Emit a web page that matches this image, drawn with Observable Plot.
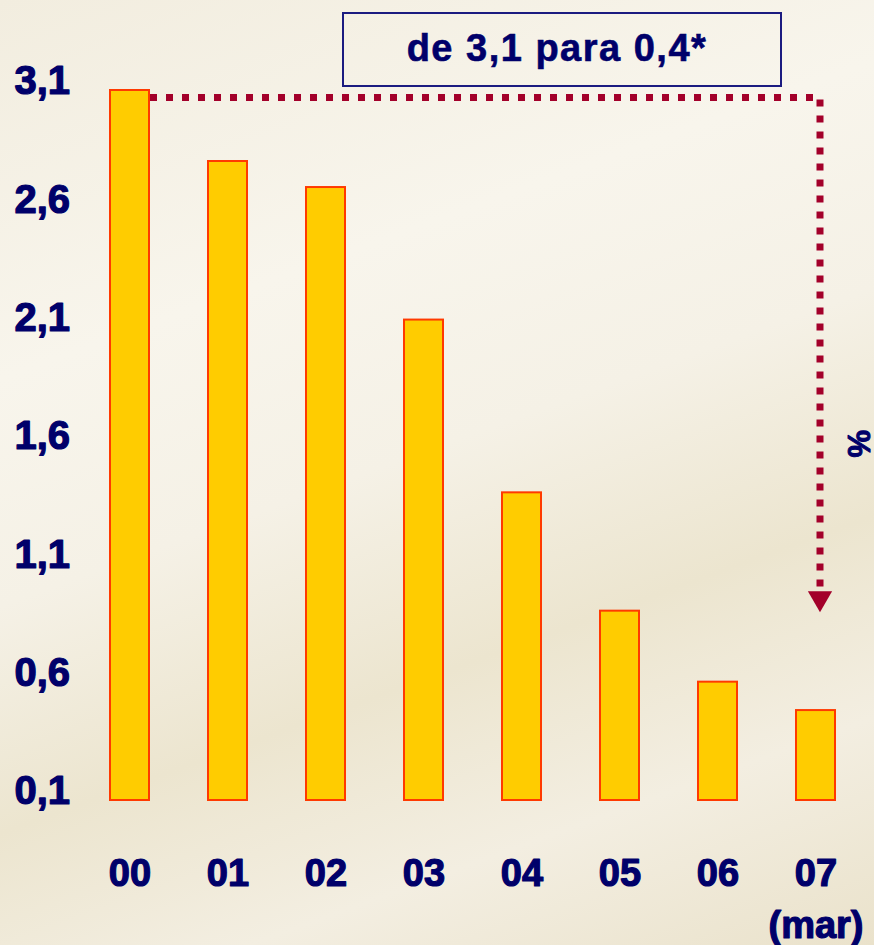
<!DOCTYPE html>
<html><head><meta charset="utf-8">
<script src="https://cdn.jsdelivr.net/npm/d3@7"></script>
<script src="https://cdn.jsdelivr.net/npm/@observablehq/plot@0.6"></script>
<style>
html,body{margin:0;padding:0;}
body{width:874px;height:945px;overflow:hidden;
  background:linear-gradient(160deg,#F2EDDF 0%,#F8F5EC 30%,#F5F1E6 48%,#ECE5CF 66%,#F3EEE1 82%,#EAE2CB 100%);}
#chart{position:relative;width:874px;height:945px;}
#chart svg{position:absolute;left:0;top:0;}
#title{position:absolute;left:342px;top:12px;width:426px;height:69px;border:2px solid #1b1b80;
  display:flex;align-items:center;justify-content:center;z-index:2;
  font:bold 38px "Liberation Sans",Arial,sans-serif;color:#00006a;letter-spacing:1.5px;
  -webkit-text-stroke:0.6px #00006a;padding:0 10px 2px 0;box-sizing:content-box}
</style></head><body>
<div id="chart"><div id="title"></div></div>
<script>
// ---- data ----
const years = ["00","01","02","03","04","05","06","07"];
const values = [3.1, 2.8, 2.69, 2.13, 1.40, 0.90, 0.60, 0.48];
const yTicks = [0.1, 0.6, 1.1, 1.6, 2.1, 2.6, 3.1];
const xTickLabels = {"07": "07\n(mar)"};
const titleText = "de 3,1 para 0,4*";
const unitLabel = "%";
const arrowFrom = 3.07;   // level of the dotted connector
const arrowTo = 0.97;     // where the dotted connector ends
const arrowHead = 0.955;  // arrow head position
// ----------------

document.getElementById("title").textContent = titleText;

const data = years.map((y, i) => ({year: y, value: values[i]}));
const path = [
  {year: years[0], value: arrowFrom},
  {year: years[years.length - 1], value: arrowFrom},
  {year: years[years.length - 1], value: arrowTo}
];

const navy = "#00006a";
const red = "#a3002a";

const chart = Plot.plot({
  width: 874,
  height: 945,
  marginTop: 90,
  marginBottom: 145,
  marginLeft: 97,
  marginRight: 26,
  style: {background: "transparent", fontFamily: "'Liberation Sans', Arial, sans-serif"},
  x: {domain: years, paddingInner: 0.6, paddingOuter: 0.1, axis: null},
  y: {domain: [0.1, 3.1], axis: null},
  marks: [
    Plot.line(path, {x: "year", y: "value", dx: 4, stroke: red, strokeWidth: 7,
      strokeDasharray: "7,9", strokeLinecap: "butt", strokeLinejoin: "miter"}),
    Plot.dot([{year: years[years.length - 1], value: arrowHead}], {x: "year", y: "value", dx: 4,
      symbol: "triangle", rotate: 180, r: 9, fill: red, stroke: "none"}),
    Plot.barY(data, {x: "year", y1: 0.1, y2: "value", fill: "#FFCC00", stroke: "#FF3A00", strokeWidth: 2}),
    Plot.axisY({ticks: yTicks, tickSize: 0, tickPadding: 0, textAnchor: "start", dx: -83, dy: -9,
      tickFormat: d => d.toFixed(1).replace(".", ","), fontSize: 40, fontWeight: "bold",
      color: navy, fill: navy, textStroke: navy, textStrokeWidth: 1.2, label: null}),
    Plot.axisX({tickSize: 0, tickPadding: 48, tickFormat: d => xTickLabels[d] ?? d,
      fontSize: 38, fontWeight: "bold", lineHeight: 1.38, color: navy, fill: navy,
      textStroke: navy, textStrokeWidth: 1.2, label: null}),
    Plot.text([unitLabel], {frameAnchor: "right", dx: 9, dy: 12, rotate: 90, fontSize: 31,
      fontWeight: "bold", fill: navy, stroke: navy, strokeWidth: 1})
  ]
});
document.getElementById("chart").appendChild(chart);
</script>
</body></html>
